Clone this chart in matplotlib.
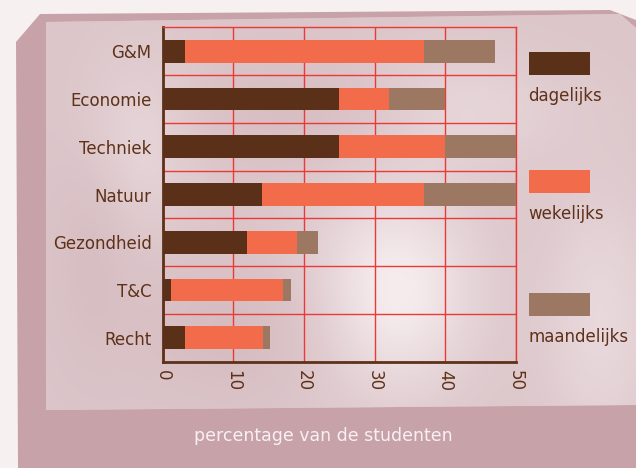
import numpy as np
import matplotlib
matplotlib.use("Agg")
from matplotlib import pyplot as plt
from matplotlib.patches import Polygon, Rectangle
from matplotlib.colors import to_rgb

plt.rcParams['font.family'] = ['Liberation Sans Narrow', 'DejaVu Sans']

categories = ["G&M", "Economie", "Techniek", "Natuur", "Gezondheid", "T&C", "Recht"]
series = ["dagelijks", "wekelijks", "maandelijks"]
dagelijks = [3.2, 25.0, 25.0, 14.0, 12.0, 1.2, 3.2]
wekelijks = [33.8, 7.0, 15.0, 23.0, 7.0, 15.8, 11.0]
maandelijks = [10.0, 8.0, 10.0, 13.0, 3.0, 1.2, 1.0]
xticks = [0, 10, 20, 30, 40, 50]
xlabel = "percentage van de studenten"

colors = ["#5b3019", "#f26c4b", "#9c7761"]
textcol = "#5e3119"
red = "#ea3a36"

W, H = 636, 468
fig = plt.figure(figsize=(W / 100, H / 100), dpi=100, facecolor="#f6f0f1")

# stone background, drawn in pixel coordinates on a full-figure axes
bg = fig.add_axes([0, 0, 1, 1], zorder=-10)
bg.axis("off")
bg.add_patch(Polygon([(16, 42), (40, 14), (610, 10), (636, 20), (636, 468), (18, 468)],
                     closed=True, facecolor="#c8a2a9", edgecolor="none", zorder=0))
front = Polygon([(46, 22), (620, 14), (636, 28), (636, 405), (46, 410)],
                closed=True, facecolor="#dcc6ca", edgecolor="none", zorder=0.5)
bg.add_patch(front)

# soft light and dark spots on the front face
gx, gy = np.meshgrid(np.arange(W), np.arange(H))
def blob(cx, cy, sx, sy):
    return np.exp(-((gx - cx) ** 2 / (2 * sx ** 2) + (gy - cy) ** 2 / (2 * sy ** 2)))
light = 0.75 * blob(395, 290, 55, 70) + 0.4 * blob(440, 110, 80, 40) + 0.35 * blob(600, 320, 40, 90) \
    + 0.3 * blob(140, 140, 40, 60)
dark = 0.35 * blob(330, 110, 90, 40) + 0.3 * blob(230, 330, 70, 50) + 0.25 * blob(90, 250, 30, 80)
base = np.array(to_rgb("#dcc6ca"))
white = np.array([1.0, 0.98, 0.985])
mauve = np.array(to_rgb("#c9a6ad"))
light = np.clip(light, 0, 1)[..., None]
dark = np.clip(dark, 0, 1)[..., None]
img = base * (1 - light) + white * light
img = img * (1 - dark) + mauve * dark
im = bg.imshow(img, extent=(0, W, H, 0), interpolation="bilinear", zorder=1, aspect="auto")
im.set_clip_path(front)
bg.set_xlim(0, W)
bg.set_ylim(H, 0)

ax = fig.add_axes([162.7 / W, 1 - 361.7 / H, 353 / W, 334.4 / H])
ax.set_facecolor("none")

y = np.arange(len(categories))
left = np.zeros(len(categories))
for vals, col in zip([dagelijks, wekelijks, maandelijks], colors):
    ax.barh(y, vals, left=left, height=0.475, color=col, zorder=3)
    left = left + np.array(vals)

ax.set_xlim(0, 50)
ax.set_ylim(len(categories) - 0.5, -0.5)
ax.set_yticks(y)
ax.set_yticklabels(categories, fontsize=12, color=textcol)
ax.set_yticks(np.arange(0.5, len(categories) - 1, 1), minor=True)
ax.set_xticks(xticks)
ax.set_xticklabels([str(t) for t in xticks], rotation=-90, fontsize=12, color=textcol,
                   ha="center", va="top")
ax.tick_params(axis="both", which="both", length=0)
ax.tick_params(axis="y", pad=8)
ax.tick_params(axis="x", pad=6)
ax.grid(axis="x", which="major", color=red, linewidth=1, zorder=1)
ax.grid(axis="y", which="minor", color=red, linewidth=1, zorder=1)
ax.set_axisbelow(True)

for s in ["top", "right"]:
    ax.spines[s].set_color(red)
    ax.spines[s].set_linewidth(1)
for s in ["left", "bottom"]:
    ax.spines[s].set_color(textcol)
    ax.spines[s].set_linewidth(2)

# legend on the right
leg_rect_tops = [52, 170, 293]
for name, col, top in zip(series, colors, leg_rect_tops):
    bg.add_patch(Rectangle((529, top), 61, 22.7, facecolor=col, edgecolor="none", zorder=2))
    bg.text(528, top + 44, name, fontsize=12, color=textcol, ha="left", va="center", zorder=3)

bg.text(323, 436, xlabel, fontsize=12.5, color="#f8f0f2", ha="center", va="center", zorder=3)

fig.savefig("out.png", dpi=100, facecolor=fig.get_facecolor())
